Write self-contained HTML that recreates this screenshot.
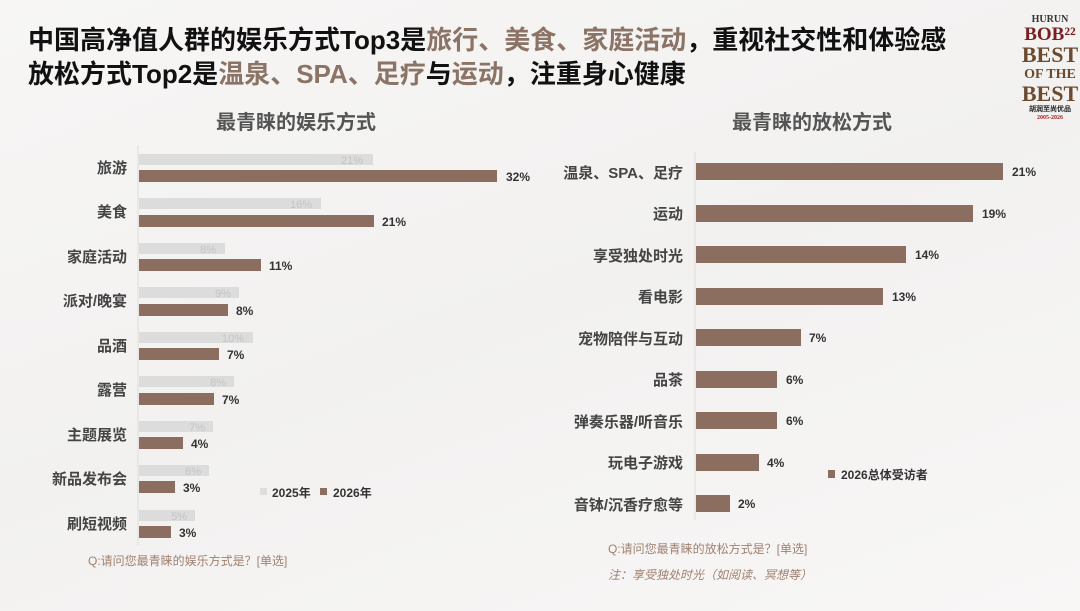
<!DOCTYPE html>
<html><head><meta charset="utf-8"><style>
body{margin:0;width:1080px;height:611px;overflow:hidden;background:linear-gradient(160deg,#f7f6f5 0%,#f2f1f0 50%,#f8f7f6 100%);font-family:"Liberation Sans","Noto Sans CJK SC",sans-serif;}
</style></head><body>
<svg width="1080" height="611" xmlns="http://www.w3.org/2000/svg" style="position:absolute;left:0;top:0;font-family:'Liberation Sans','Noto Sans CJK SC',sans-serif">
<g font-weight="bold" font-size="26" fill="#111">
<text x="28" y="49">中国高净值人群的娱乐方式Top3是<tspan fill="#8b7366">旅行、美食、家庭活动</tspan>，重视社交性和体验感</text>
<text x="28" y="83">放松方式Top2是<tspan fill="#8b7366">温泉、SPA、足疗</tspan>与<tspan fill="#8b7366">运动</tspan>，注重身心健康</text>
</g>
<g font-family="'Liberation Serif',serif" font-weight="bold" fill="#6b4a2e" text-anchor="middle">
<text x="1050" y="22" font-size="10" fill="#333">HURUN</text>
<text x="1050" y="40" font-size="19" fill="#7a1f1f">BOB²²</text>
<text x="1050" y="62" font-size="22">BEST</text>
<text x="1050" y="78" font-size="14">OF THE</text>
<text x="1050" y="101" font-size="22">BEST</text>
<text x="1050" y="111" font-size="7" fill="#222">胡润至尚优品</text>
<text x="1050" y="119" font-size="6" fill="#a22">2005-2026</text>
</g>
<g font-weight="bold" font-size="20" fill="#555" text-anchor="middle">
<text x="296" y="129">最青睐的娱乐方式</text>
<text x="812" y="129">最青睐的放松方式</text>
</g>
<line x1="138" y1="145" x2="138" y2="545" stroke="#ddd"/>
<line x1="695" y1="152" x2="695" y2="520" stroke="#ddd"/>
<rect x="260" y="488" width="7" height="7" fill="#ddd"/><text x="272" y="497" font-size="12" font-weight="bold" fill="#333">2025年</text>
<rect x="320" y="488" width="7" height="7" fill="#8b6e60"/><text x="333" y="497" font-size="12" font-weight="bold" fill="#333">2026年</text>
<rect x="828" y="470" width="7" height="8" fill="#8b6e60"/><text x="841" y="479" font-size="12" font-weight="bold" fill="#333">2026总体受访者</text>
<text x="88" y="565" font-size="12" fill="#a08070">Q:请问您最青睐的娱乐方式是？[单选]</text>
<text x="608" y="553" font-size="12" fill="#a08070">Q:请问您最青睐的放松方式是？[单选]</text>
<text x="608" y="579" font-size="12" font-style="italic" fill="#a08070">注：享受独处时光（如阅读、冥想等）</text>
<g font-size="15" font-weight="bold" fill="#444" text-anchor="end">
<text x="127" y="173">旅游</text><text x="127" y="217">美食</text><text x="127" y="262">家庭活动</text><text x="127" y="306">派对/晚宴</text><text x="127" y="351">品酒</text><text x="127" y="395">露营</text><text x="127" y="440">主题展览</text><text x="127" y="484">新品发布会</text><text x="127" y="529">刷短视频</text>
<text x="683" y="178">温泉、SPA、足疗</text><text x="683" y="219">运动</text><text x="683" y="261">享受独处时光</text><text x="683" y="302">看电影</text><text x="683" y="344">宠物陪伴与互动</text><text x="683" y="385">品茶</text><text x="683" y="427">弹奏乐器/听音乐</text><text x="683" y="468">玩电子游戏</text><text x="683" y="510">音钵/沉香疗愈等</text>
</g>
<g>
<rect x="139" y="154" width="234" height="11" fill="#dcdcdc"/><text x="363" y="164" font-size="11" fill="#c4c4c4" text-anchor="end">21%</text>
<rect x="139" y="170" width="358" height="12" fill="#8b6e60"/><text x="506" y="181" font-size="12" font-weight="bold" fill="#333">32%</text>
<rect x="139" y="198" width="182" height="11" fill="#dcdcdc"/><text x="312" y="208" font-size="11" fill="#c4c4c4" text-anchor="end">16%</text>
<rect x="139" y="215" width="235" height="12" fill="#8b6e60"/><text x="382" y="226" font-size="12" font-weight="bold" fill="#333">21%</text>
<rect x="139" y="243" width="86" height="11" fill="#dcdcdc"/><text x="216" y="253" font-size="11" fill="#c4c4c4" text-anchor="end">8%</text>
<rect x="139" y="259" width="122" height="12" fill="#8b6e60"/><text x="269" y="270" font-size="12" font-weight="bold" fill="#333">11%</text>
<rect x="139" y="287" width="100" height="11" fill="#dcdcdc"/><text x="231" y="297" font-size="11" fill="#c4c4c4" text-anchor="end">9%</text>
<rect x="139" y="304" width="89" height="12" fill="#8b6e60"/><text x="236" y="315" font-size="12" font-weight="bold" fill="#333">8%</text>
<rect x="139" y="332" width="114" height="11" fill="#dcdcdc"/><text x="244" y="342" font-size="11" fill="#c4c4c4" text-anchor="end">10%</text>
<rect x="139" y="348" width="80" height="12" fill="#8b6e60"/><text x="227" y="359" font-size="12" font-weight="bold" fill="#333">7%</text>
<rect x="139" y="376" width="95" height="11" fill="#dcdcdc"/><text x="226" y="386" font-size="11" fill="#c4c4c4" text-anchor="end">8%</text>
<rect x="139" y="393" width="75" height="12" fill="#8b6e60"/><text x="222" y="404" font-size="12" font-weight="bold" fill="#333">7%</text>
<rect x="139" y="421" width="74" height="11" fill="#dcdcdc"/><text x="205" y="431" font-size="11" fill="#c4c4c4" text-anchor="end">7%</text>
<rect x="139" y="437" width="44" height="12" fill="#8b6e60"/><text x="191" y="448" font-size="12" font-weight="bold" fill="#333">4%</text>
<rect x="139" y="465" width="70" height="11" fill="#dcdcdc"/><text x="201" y="475" font-size="11" fill="#c4c4c4" text-anchor="end">6%</text>
<rect x="139" y="481" width="36" height="12" fill="#8b6e60"/><text x="183" y="492" font-size="12" font-weight="bold" fill="#333">3%</text>
<rect x="139" y="510" width="56" height="11" fill="#dcdcdc"/><text x="187" y="520" font-size="11" fill="#c4c4c4" text-anchor="end">5%</text>
<rect x="139" y="526" width="32" height="12" fill="#8b6e60"/><text x="179" y="537" font-size="12" font-weight="bold" fill="#333">3%</text>
<rect x="696" y="163" width="307" height="17" fill="#8b6e60"/><text x="1012" y="176" font-size="12" font-weight="bold" fill="#333">21%</text>
<rect x="696" y="205" width="277" height="17" fill="#8b6e60"/><text x="982" y="218" font-size="12" font-weight="bold" fill="#333">19%</text>
<rect x="696" y="246" width="210" height="17" fill="#8b6e60"/><text x="915" y="259" font-size="12" font-weight="bold" fill="#333">14%</text>
<rect x="696" y="288" width="187" height="17" fill="#8b6e60"/><text x="892" y="301" font-size="12" font-weight="bold" fill="#333">13%</text>
<rect x="696" y="329" width="105" height="17" fill="#8b6e60"/><text x="809" y="342" font-size="12" font-weight="bold" fill="#333">7%</text>
<rect x="696" y="371" width="81" height="17" fill="#8b6e60"/><text x="786" y="384" font-size="12" font-weight="bold" fill="#333">6%</text>
<rect x="696" y="412" width="81" height="17" fill="#8b6e60"/><text x="786" y="425" font-size="12" font-weight="bold" fill="#333">6%</text>
<rect x="696" y="454" width="63" height="17" fill="#8b6e60"/><text x="767" y="467" font-size="12" font-weight="bold" fill="#333">4%</text>
<rect x="696" y="495" width="34" height="17" fill="#8b6e60"/><text x="738" y="508" font-size="12" font-weight="bold" fill="#333">2%</text>
</g>
</svg>
</body></html>
